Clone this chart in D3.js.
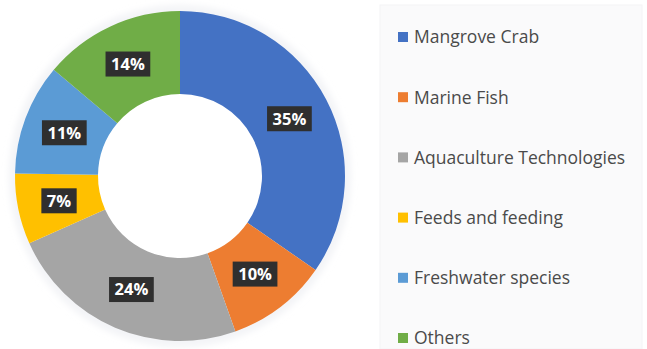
<!DOCTYPE html>
<html>
<head>
<meta charset="utf-8">
<script src="https://cdn.jsdelivr.net/npm/d3@7"></script>
<style>
  html, body { margin: 0; padding: 0; background: #ffffff; }
  svg { display: block; }
</style>
</head>
<body>
<svg id="chart" width="647" height="349"></svg>
<script>
// Research share by commodity area
const categories = ["Mangrove Crab", "Marine Fish", "Aquaculture Technologies", "Feeds and feeding", "Freshwater species", "Others"];
const shares = [35, 10, 24, 7, 11, 14];
const colors = ["#4472C4", "#ED7D31", "#A5A5A5", "#FFC000", "#5B9BD5", "#70AD47"];

const svg = d3.select("#chart");
const cx = 180, cy = 176, outerR = 165, innerR = 82;
const font = "'Open Sans', 'Noto Sans', sans-serif";

const defs = svg.append("defs");
const blur = defs.append("filter").attr("id", "soft").attr("x", "-20%").attr("y", "-20%").attr("width", "140%").attr("height", "140%");
blur.append("feGaussianBlur").attr("stdDeviation", 4);

// Legend panel
svg.append("rect")
  .attr("x", 380).attr("y", 5).attr("width", 262).attr("height", 344)
  .attr("fill", "#fafafb").attr("stroke", "#f4f4f6").attr("stroke-width", 1);

const data = categories.map((c, i) => ({ name: c, value: shares[i], color: colors[i] }));

const pie = d3.pie().value(d => d.value).sort(null);
const arc = d3.arc().innerRadius(innerR).outerRadius(outerR);
const labelArc = d3.arc().innerRadius((innerR + outerR) / 2).outerRadius((innerR + outerR) / 2);

const g = svg.append("g").attr("transform", `translate(${cx},${cy})`);

// faint halo around the ring
g.append("circle").attr("r", outerR + 1).attr("fill", "none")
  .attr("stroke", "#e6e8ee").attr("stroke-width", 5).attr("filter", "url(#soft)");

const arcs = pie(data);
g.selectAll("path.slice").data(arcs).join("path")
  .attr("class", "slice")
  .attr("d", arc)
  .attr("fill", d => d.data.color);

// Percentage labels in dark boxes
const labels = g.selectAll("g.lbl").data(arcs).join("g")
  .attr("class", "lbl")
  .attr("transform", d => `translate(${labelArc.centroid(d)})`);

labels.each(function(d) {
  const sel = d3.select(this);
  const t = sel.append("text")
    .attr("text-anchor", "middle")
    .attr("dy", "0.36em")
    .attr("font-family", font)
    .attr("font-weight", 700)
    .attr("font-size", 16.5)
    .attr("fill", "#ffffff")
    .text(d.data.value + "%");
  const w = t.node().getComputedTextLength() + 11;
  sel.insert("rect", "text")
    .attr("x", -w / 2).attr("y", -12.5)
    .attr("width", w).attr("height", 25)
    .attr("fill", "#2f2f2f");
});

// Legend
const legend = svg.append("g");
const rowY = d3.scalePoint().domain(categories).range([37, 338]);
const items = legend.selectAll("g").data(data).join("g")
  .attr("transform", d => `translate(398,${rowY(d.name)})`);
items.append("rect")
  .attr("x", 0).attr("y", -5).attr("width", 10).attr("height", 10)
  .attr("fill", d => d.color);
items.append("text")
  .attr("x", 16).attr("dy", "0.36em")
  .attr("font-family", font)
  .attr("font-size", 17.5)
  .attr("fill", "#4a4a4a")
  .text(d => d.name);
</script>
</body>
</html>
